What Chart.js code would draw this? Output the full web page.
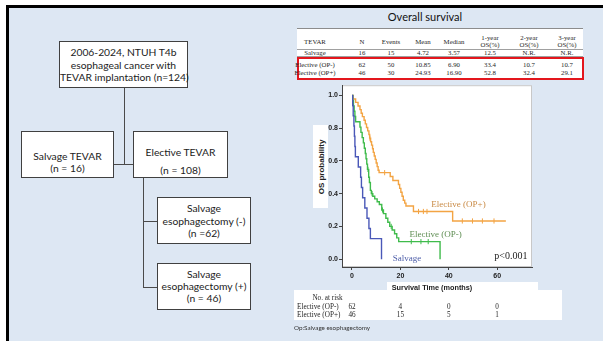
<!DOCTYPE html>
<html><head><meta charset="utf-8">
<script src="https://cdn.jsdelivr.net/npm/chart.js@4.4.1/dist/chart.umd.min.js"></script>
<style>
html,body{margin:0;padding:0;}
body{width:603px;height:341px;position:relative;overflow:hidden;background:#fff;font-family:Lato,'Open Sans',sans-serif;}
#frame{position:absolute;left:6px;top:5px;width:597px;height:336px;background:#dde7f3;border-top:3px solid #000;border-left:3px solid #000;box-sizing:border-box;}
.box{position:absolute;box-sizing:border-box;border:1px solid #404040;background:#fff;text-align:center;color:#222;font-size:10.3px;white-space:nowrap;}
.ln{position:absolute;background:#4a4a4a;}
.t{position:absolute;white-space:nowrap;}
.serif{font-family:'Liberation Serif','Times New Roman',serif;color:#262626;}
</style>
</head><body>
<div id="frame"></div>
<div id="flow"></div>
<div class="t" id="title" style="left:385px;top:10px;width:80px;text-align:center;font-size:11px;color:#111;line-height:14px;">Overall survival</div>
<div id="tbl"></div>
<canvas id="c" width="240" height="205" style="position:absolute;left:300px;top:80px;width:240px;height:205px;"></canvas>
<div class="t" style="left:313px;top:125px;width:15px;height:83px;background:#fff;z-index:3;"><div style="position:absolute;left:50%;top:50%;transform:translate(-50%,-50%) rotate(-90deg);font-family:'Liberation Sans',Arial,sans-serif;font-weight:bold;font-size:8px;color:#222;white-space:nowrap;">OS probability</div></div>
<div id="risk"></div>
<script>
// ---------- data ----------
const flowLabels = {
  root: ['2006-2024, NTUH T4b','esophageal cancer with','TEVAR implantation (n=124)'],
  salvage: ['Salvage TEVAR','(n = 16)'],
  elective: ['Elective TEVAR','(n = 108)'],
  opMinus: ['Salvage','esophagectomy (-)','(n =62)'],
  opPlus: ['Salvage','esophagectomy (+)','(n = 46)']
};
const tableHeader = [['TEVAR'],['N'],['Events'],['Mean'],['Median'],['1-year','OS(%)'],['2-year','OS(%)'],['3-year','OS(%)']];
const tableSalvage = ['Salvage','16','15','4.72','3.57','12.5','N.R.','N.R.'];
const tableOpMinus = ['Elective (OP-)','62','50','10.85','6.90','33.4','10.7','10.7'];
const tableOpPlus  = ['Elective (OP+)','46','30','24.93','16.90','52.8','32.4','29.1'];

const seriesNames = ['Salvage','Elective (OP-)','Elective (OP+)'];
const salvageTimes = [0,0.3,0.5,0.8,1.0,1.2,1.4,2.6,3.57,3.9,4.4,5.3,6.2,7.0,7.6,12.2];
const salvageSurv  = [1,0.9375,0.875,0.8125,0.75,0.6875,0.625,0.5625,0.5,0.4375,0.375,0.3125,0.25,0.1875,0.125,0];
const opMinusTimes = [0,0.3,0.6,0.9,1.2,1.5,3.3,3.7,4.2,4.7,5.1,5.5,5.8,6.1,6.4,6.9,7.2,7.6,8.0,8.6,9.4,10.4,11.3,12.3,13.0,14.0,14.8,15.6,16.6,17.6,18.5,19.3,36.4];
const opMinusSurv  = [1,0.968,0.935,0.903,0.871,0.839,0.806,0.774,0.742,0.71,0.677,0.645,0.613,0.58,0.548,0.5,0.468,0.42,0.40,0.384,0.368,0.35,0.334,0.30,0.278,0.25,0.225,0.20,0.178,0.155,0.13,0.107,0];
const opMinusCensor = [6.6,8.3,12.6,16.2,24.5,28.5,31.5];
const opPlusTimes = [0,0.5,1.5,2.5,3.3,3.8,4.3,5.0,5.5,6.0,6.5,7.0,7.3,7.7,8.1,8.5,8.8,9.2,9.6,10.0,10.4,10.8,11.2,15.8,16.9,19.2,19.7,20.2,20.7,21.2,21.8,22.3,25.4,41.6,63.6];
const opPlusSurv  = [1,0.978,0.957,0.935,0.913,0.891,0.87,0.848,0.826,0.804,0.783,0.761,0.739,0.717,0.696,0.674,0.652,0.63,0.609,0.587,0.565,0.543,0.528,0.505,0.48,0.456,0.432,0.408,0.384,0.36,0.342,0.324,0.291,0.233,0.233];
const opPlusCensor = [7.4,13.5,27.5,29.5,31.0,45.6,49.8,53.9,58.7];
const xTicks = [0,20,40,60];
const yTicks = [0,0.2,0.4,0.6,0.8,1.0];
const riskTimes = [0,20,40,60];
const riskOpMinus = [62,4,0,0];
const riskOpPlus = [46,15,5,1];
const pText = 'p<0.001';

// ---------- flowchart (HTML) ----------
const flow = document.getElementById('flow');
function box(lines, l, t, w, h, pad, lh){
  const d=document.createElement('div');d.className='box';
  d.style.cssText=`left:${l}px;top:${t}px;width:${w}px;height:${h}px;padding-top:${pad}px;line-height:${lh}px;`;
  d.innerHTML=lines.join('<br>');flow.appendChild(d);
}
function ln(l,t,w,h){const d=document.createElement('div');d.className='ln';d.style.cssText=`left:${l}px;top:${t}px;width:${w}px;height:${h}px;`;flow.appendChild(d);}
ln(123.5,88,1.5,76.5); ln(114,163.5,19,1.5);
ln(142.5,178,1.5,110); ln(142.5,220.5,15,1.5); ln(142.5,286.5,15,1.5);
box(flowLabels.root,59,41,129,47,4,12.5);
box(flowLabels.salvage,21,131,93,47,17.5,12);
box(flowLabels.elective,133,131,95,47,10.5,18);
box(flowLabels.opMinus,157,197,94,47,4,12.6);
box(flowLabels.opPlus,157,263,94,47,4,12);

// ---------- summary table (HTML) ----------
const tbl=document.getElementById('tbl');
const colCenters=[315,362,391,423,454,490,529,567];
function el(html,css,cls){const d=document.createElement('div');d.className=cls||'t';d.style.cssText=css;d.innerHTML=html;tbl.appendChild(d);return d;}
el('', 'left:297px;top:28px;width:286px;height:52px;background:#fff;');
el('', 'left:297px;top:27.5px;width:286px;height:1.5px;background:#8c8c8c;');
el('', 'left:297px;top:49px;width:286px;height:1px;background:#a0a0a0;');
el('', 'left:297px;top:56px;width:286px;height:1px;background:#a0a0a0;');
el('', 'left:297px;top:57px;width:287px;height:23px;border:2px solid #e3161d;box-sizing:border-box;');
function cell(txt,cx,cy){el(txt,`left:${cx-30}px;top:${cy-4}px;width:60px;text-align:center;font-size:6.8px;line-height:8px;`,'t serif');}
tableHeader.forEach((h,i)=>{ if(h.length===1) cell(h[0],colCenters[i],42); else {cell(h[0],colCenters[i],37.5);cell(h[1],colCenters[i],45);} });
[[tableSalvage,53],[tableOpMinus,64.8],[tableOpPlus,73.4]].forEach(([row,y])=>row.forEach((v,i)=>cell(v,colCenters[i],y)));

// ---------- KM chart ----------
function pts(t,s){return t.map((v,i)=>({x:v,y:s[i]}));}
function survAt(t,s,x){let y=s[0];for(let i=0;i<t.length;i++){if(t[i]<=x)y=s[i];}return y;}
function cens(t,s,c){return c.map(x=>({x:x,y:survAt(t,s,x)}));}
const colors={salvage:'#4a58b8',opMinus:'#3fbb4b',opPlus:'#f3a443'};
const annotations=[
  {text:seriesNames[2],x:32.8,y:0.335,color:'#c98a45',align:'left'},
  {text:seriesNames[1],x:23.8,y:0.147,color:'#5e8d52',align:'left'},
  {text:seriesNames[0],x:16.8,y:0.005,color:'#5060aa',align:'left'},
  {text:pText,x:72.5,y:0.017,color:'#222',align:'right'}
];
const bgPlugin={id:'bg',beforeDraw(chart){const {ctx,chartArea:a}=chart;ctx.save();ctx.fillStyle='#fff';ctx.fillRect(a.left,a.top,a.right-a.left,a.bottom-a.top);ctx.strokeStyle='#c8c8c8';ctx.lineWidth=1;ctx.strokeRect(a.left+0.5,a.top+0.5,a.right-a.left-1,a.bottom-a.top-1);ctx.restore();}};
const textPlugin={id:'txt',afterDatasetsDraw(chart){const {ctx,scales:{x,y}}=chart;ctx.save();ctx.textBaseline='middle';
  annotations.forEach(a=>{ctx.fillStyle=a.color;ctx.textAlign=a.align;ctx.font=(a.text===pText?"10px":"9px")+" 'Liberation Serif'";ctx.fillText(a.text,x.getPixelForValue(a.x),y.getPixelForValue(a.y));});ctx.restore();}};
const lineDs=(label,t,s,c)=>({label,data:pts(t,s),borderColor:c,borderWidth:1.4,stepped:true,pointRadius:0,fill:false,tension:0});
const censDs=(label,data,c)=>({type:'scatter',label,data,pointStyle:'line',rotation:90,radius:2.6,borderColor:c,borderWidth:1,showLine:false});
const tickFont={family:"'Liberation Sans', Arial, sans-serif",size:7,weight:'bold'};
const chart=new Chart(document.getElementById('c'),{
  type:'line',
  data:{datasets:[
    lineDs(seriesNames[0],salvageTimes,salvageSurv,colors.salvage),
    lineDs(seriesNames[1],opMinusTimes,opMinusSurv,colors.opMinus),
    lineDs(seriesNames[2],opPlusTimes,opPlusSurv,colors.opPlus),
    censDs('c1',cens(opMinusTimes,opMinusSurv,opMinusCensor),colors.opMinus),
    censDs('c2',cens(opPlusTimes,opPlusSurv,opPlusCensor),colors.opPlus)
  ]},
  options:{
    responsive:false,animation:false,devicePixelRatio:1,
    layout:{padding:{top:2,right:8,left:0,bottom:0}},
    plugins:{legend:{display:false},tooltip:{enabled:false}},
    scales:{
      x:{type:'linear',min:-4.13,max:74.4,
        afterBuildTicks:s=>{s.ticks=xTicks.map(v=>({value:v}));},
        afterFit:s=>{s.height=18;},
        grid:{drawOnChartArea:false,drawTicks:true,tickLength:3,color:'#444'},
        border:{display:true,color:'#444',width:1},
        ticks:{font:tickFont,color:'#222',padding:2,maxRotation:0,autoSkip:false}},
      y:{type:'linear',min:-0.048,max:1.062,
        afterBuildTicks:s=>{s.ticks=yTicks.map(v=>({value:v}));},
        afterFit:s=>{s.width=42;},
        grid:{drawOnChartArea:false,drawTicks:true,tickLength:3,color:'#444'},
        border:{display:true,color:'#444',width:1},
        ticks:{font:tickFont,color:'#222',padding:1,callback:v=>Number(v).toFixed(1)}}
    }
  },
  plugins:[bgPlugin,textPlugin]
});

// ---------- number at risk (HTML, aligned to chart x scale) ----------
const risk=document.getElementById('risk');
function r(html,css,cls){const d=document.createElement('div');d.className=cls||'t';d.style.cssText=css;d.innerHTML=html;risk.appendChild(d);}
r('','left:387px;top:282px;width:151px;height:10px;background:#fff;');
r('','left:294px;top:290px;width:268px;height:30px;background:#fff;');
r('Survival Time (months)',"left:382px;top:283px;width:100px;text-align:center;font-family:'Liberation Sans',Arial,sans-serif;font-weight:bold;font-size:7.3px;line-height:9px;color:#222;");
r('No. at risk','left:300px;top:294px;width:55px;text-align:center;font-size:7.2px;line-height:8px;','t serif');
const xs=chart.scales.x, cLeft=300;
[[seriesNames[1],riskOpMinus,302.5],[seriesNames[2],riskOpPlus,310.5]].forEach(([name,vals,top])=>{
  r(name.replace(' ','&nbsp;'),`left:297px;top:${top}px;font-size:7.2px;line-height:8px;`,'t serif');
  vals.forEach((v,i)=>{const cx=cLeft+xs.getPixelForValue(riskTimes[i]);r(String(v),`left:${cx-15}px;top:${top}px;width:30px;text-align:center;font-size:7.2px;line-height:8px;`,'t serif');});
});
r('Op:Salvage esophagectomy','left:294px;top:324px;font-size:6.3px;line-height:8px;color:#333;');
</script>
</body></html>
